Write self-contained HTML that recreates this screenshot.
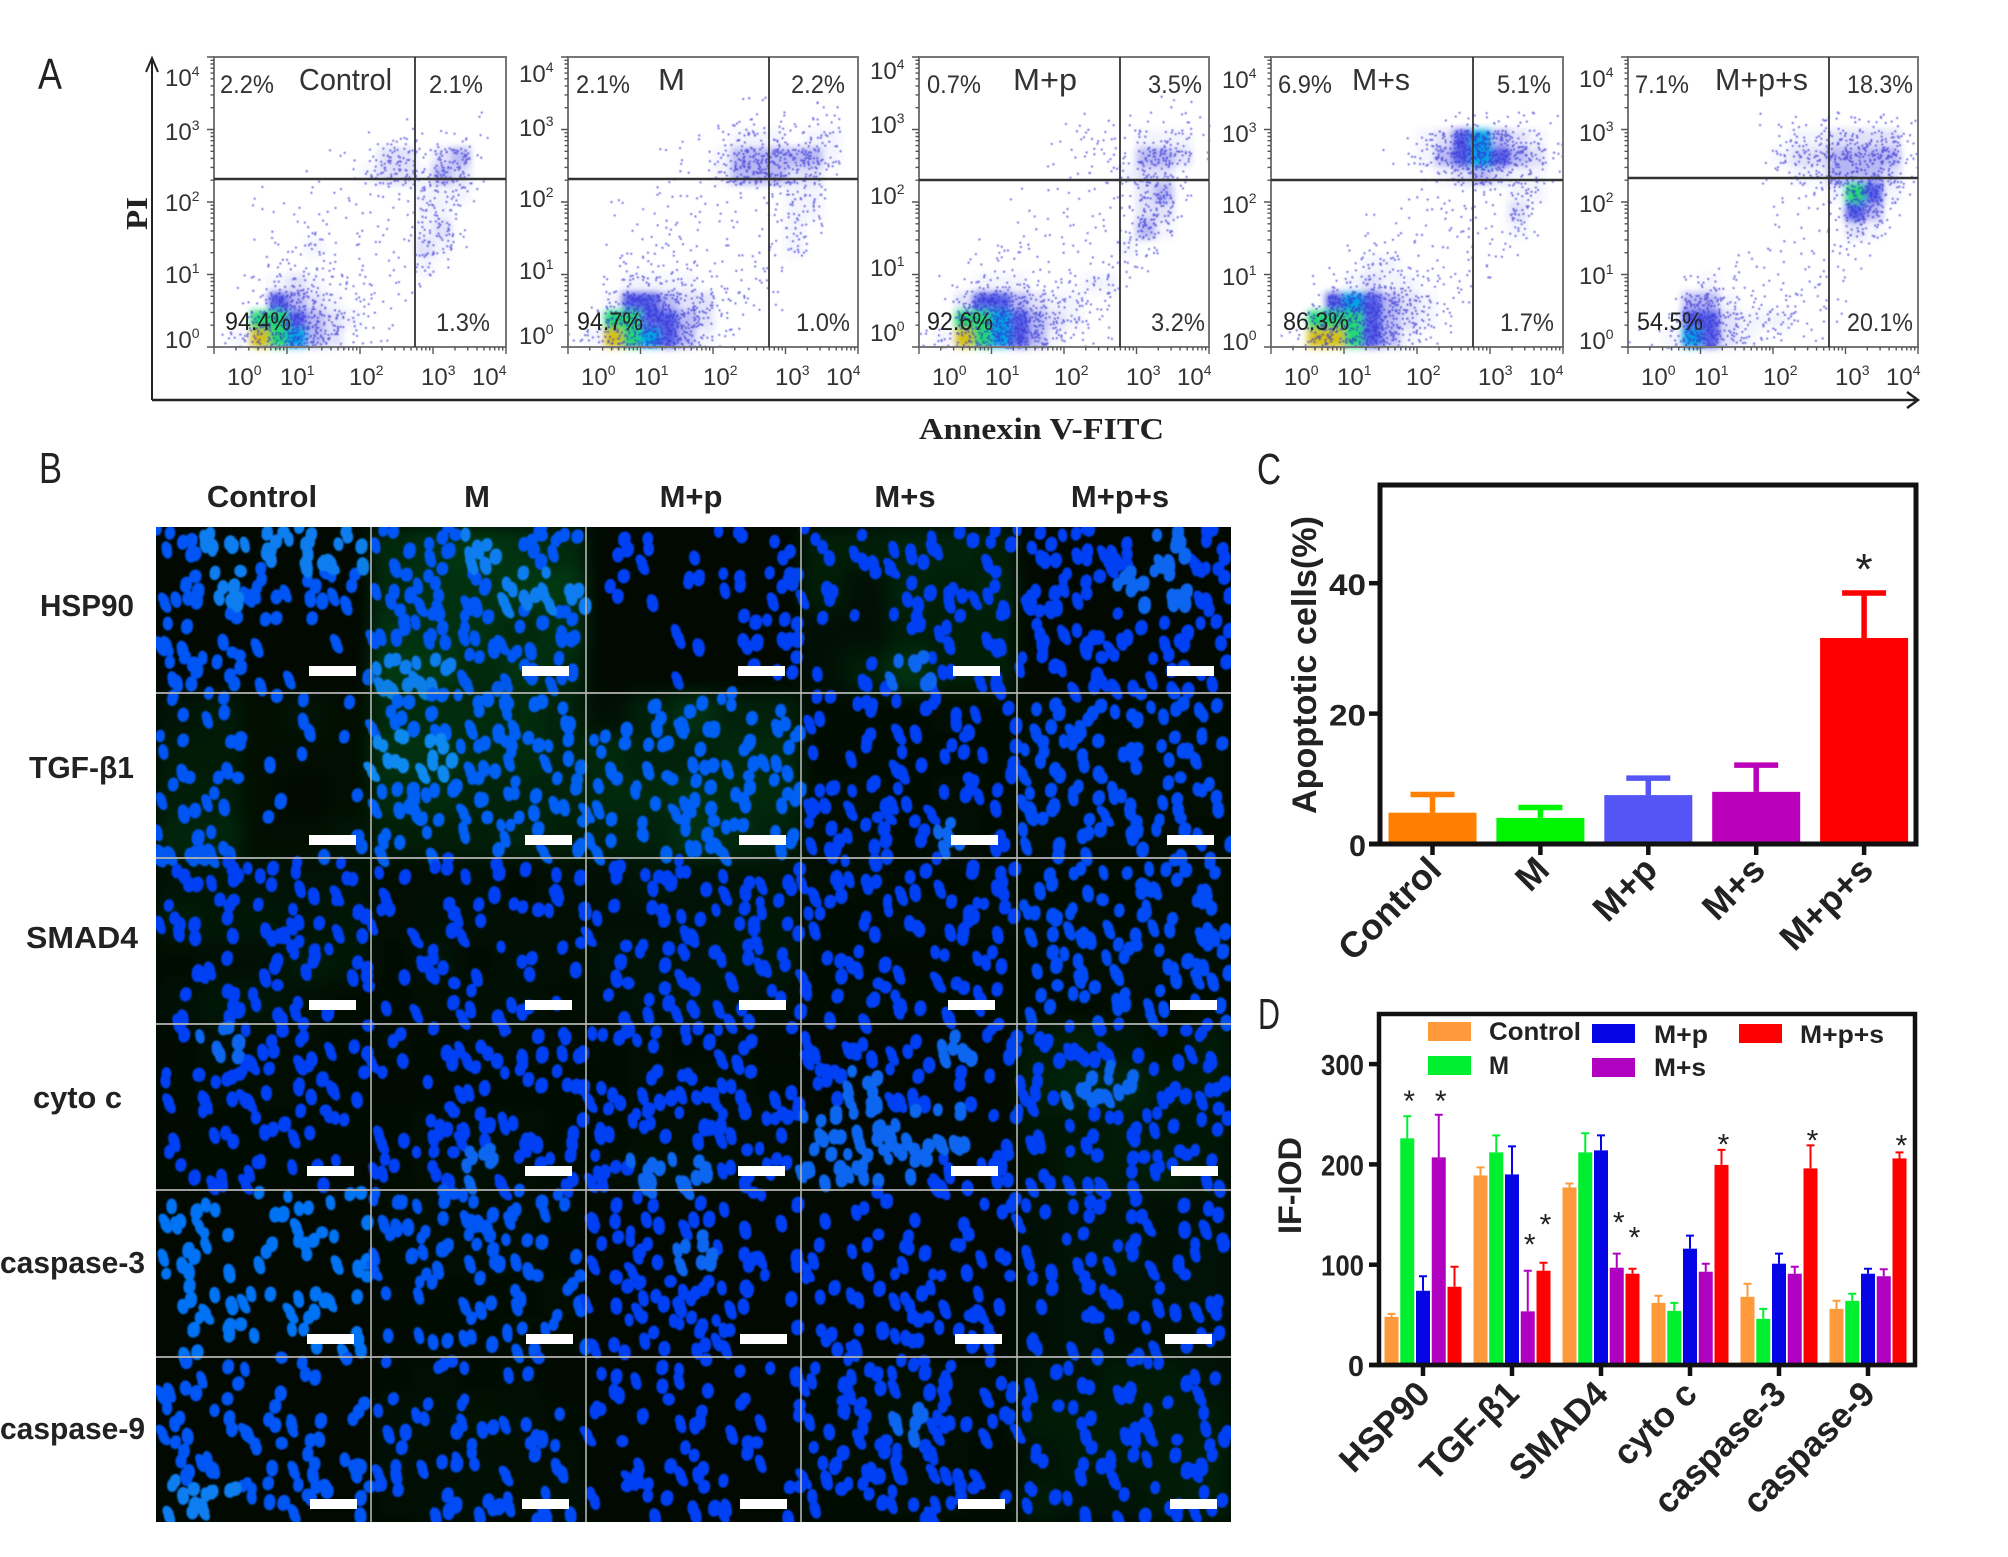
<!DOCTYPE html>
<html lang="en">
<head>
<meta charset="utf-8">
<title>Apoptosis and immunofluorescence figure</title>
<style>
html,body{margin:0;padding:0;background:#fff;}
body{width:2008px;height:1557px;overflow:hidden;}
svg{display:block;}
text{font-family:"Liberation Sans","DejaVu Sans",sans-serif;}
.serif{font-family:"Liberation Serif",serif;font-weight:bold;}
</style>
</head>
<body>
<svg id="fig" width="2008" height="1557" viewBox="0 0 2008 1557" xmlns="http://www.w3.org/2000/svg">
  <defs>
    <filter id="b5" x="-20%" y="-20%" width="140%" height="140%"><feGaussianBlur stdDeviation="3.5"/></filter>
    <filter id="b06"><feGaussianBlur stdDeviation="0.55"/></filter>
    <filter id="b1"><feGaussianBlur stdDeviation="0.9"/></filter>
    <filter id="b9" x="-20%" y="-20%" width="140%" height="140%"><feGaussianBlur stdDeviation="9"/></filter>
    <clipPath id="clipB"><rect x="156" y="527" width="1075" height="995"/></clipPath>
  </defs>
  <rect width="2008" height="1557" fill="#fff"/>

  <text x="38" y="89" font-size="44" textLength="24" lengthAdjust="spacingAndGlyphs" fill="#222">A</text>
  <text x="39" y="483" font-size="44" textLength="23" lengthAdjust="spacingAndGlyphs" fill="#222">B</text>
  <text x="1257" y="484" font-size="44" textLength="24" lengthAdjust="spacingAndGlyphs" fill="#222">C</text>
  <text x="1258" y="1029" font-size="44" textLength="22" lengthAdjust="spacingAndGlyphs" fill="#222">D</text>

  <g id="panelA"></g>
  <g>
    <path d="M152 400V60M146 72L152 58L158 72" fill="none" stroke="#222" stroke-width="2"/>
    <path d="M152 400H1916M1907 392L1918 400L1907 408" fill="none" stroke="#222" stroke-width="2.5"/>
    <text class="serif" x="919" y="439" font-size="31" textLength="245" lengthAdjust="spacingAndGlyphs" fill="#222">Annexin V-FITC</text>
    <text class="serif" transform="translate(147,230) rotate(-90)" font-size="31" textLength="33" lengthAdjust="spacingAndGlyphs" fill="#222">PI</text>
  </g>

  <g id="panelB"></g>
  <g id="chartC"></g>
  <g id="chartD"></g>
</svg>

<script>
/* ---------- Panel A: density estimated by eye, 0.25-decade cells, top row = highest PI ---------- */
const flowTitles = ["Control","M","M+p","M+s","M+p+s"];
const flowUL = ["2.2%","2.1%","0.7%","6.9%","7.1%"];
const flowUR = ["2.1%","2.2%","3.5%","5.1%","18.3%"];
const flowLL = ["94.4%","94.7%","92.6%","86.3%","54.5%"];
const flowLR = ["1.3%","1.0%","3.2%","1.7%","20.1%"];
const flowTickLabels = ["0","1","2","3","4"];
const flowDensityControl = [
[0,0,0,0,0,0,0,0,0,0,0,0,0,0,0,0],[0,0,0,0,0,0,0,0,0,0,0,0,0,0,0,0],[0,0,0,0,0,0,0,0,0,0,0,0,0,0,0,0],
[0,0,0,0,0,0,0,0,0,0,1,0,0,0,1,0],[0,0,0,0,0,0,0,0,1,2,2,1,2,2,1,0],[0,0,0,0,0,0,1,1,2,4,4,2,4,5,1,0],
[0,0,0,0,0,1,0,1,3,4,4,3,5,4,1,0],[0,0,1,0,0,1,1,1,1,1,2,3,3,3,1,0],[0,0,1,1,1,1,1,1,1,1,1,3,3,2,0,0],
[0,0,0,1,1,2,1,1,1,1,1,3,4,2,0,0],[0,0,1,1,2,3,1,1,1,1,1,4,3,1,0,0],[0,0,1,2,2,2,2,1,1,1,1,3,1,0,0,0],
[0,1,2,3,4,3,2,2,2,1,1,1,0,0,0,0],[0,1,2,6,5,4,3,2,2,1,1,0,0,0,0,0],[0,1,8,8,6,5,4,3,2,1,0,0,0,0,0,0],
[2,3,9,8,7,5,4,2,1,1,0,0,0,0,0,0]];
const flowDensityM = [
[0,0,0,0,0,0,0,0,0,0,0,0,0,0,0,0],[0,0,0,0,0,0,0,0,0,0,0,0,0,0,0,0],[0,0,0,0,0,0,0,0,0,1,1,0,0,1,1,0],
[0,0,0,0,0,0,0,0,1,2,2,2,1,2,2,0],[0,0,0,0,0,0,1,1,2,3,3,3,2,3,3,0],[0,0,0,0,0,1,1,1,3,5,5,5,5,5,3,0],
[0,0,0,0,0,1,1,1,3,5,5,5,4,4,1,0],[0,0,1,0,1,1,1,1,1,1,1,2,3,3,1,0],[0,0,1,0,1,1,1,1,1,1,1,2,3,3,0,0],
[0,0,0,1,1,2,1,1,1,1,1,1,3,2,0,0],[0,0,1,1,2,2,1,1,1,1,1,2,3,1,0,0],[0,0,1,2,2,2,2,1,1,1,2,1,0,0,0,0],
[0,1,2,3,3,3,3,2,2,2,2,1,0,0,0,0],[0,1,3,6,6,5,4,4,2,2,1,1,0,0,0,0],[0,1,8,8,6,6,5,4,2,1,0,0,0,0,0,0],
[2,3,9,8,7,6,5,3,2,1,0,0,0,0,0,0]];
const flowDensityMp = [
[0,0,0,0,0,0,0,0,0,0,0,0,0,0,0,0],[0,0,0,0,0,0,0,0,0,0,0,0,0,0,0,0],[0,0,0,0,0,0,0,0,0,0,0,0,0,1,1,0],
[0,0,0,0,0,0,0,0,1,1,1,1,1,1,2,1],[0,0,0,0,0,0,0,1,1,2,2,1,3,3,3,1],[0,0,0,0,0,0,0,1,1,2,2,2,5,5,4,1],
[0,0,0,0,0,0,0,0,1,1,2,3,4,4,2,0],[0,0,0,0,0,1,0,1,1,1,1,1,4,5,2,0],[0,0,0,0,0,0,1,1,1,1,1,2,4,4,1,0],
[0,0,0,0,0,1,1,1,1,1,1,2,5,3,0,0],[0,0,0,1,2,2,1,1,1,1,1,3,2,1,0,0],[0,0,1,1,2,1,1,1,1,1,2,2,1,0,0,0],
[0,1,2,3,3,3,2,2,2,3,3,1,0,0,0,0],[0,1,4,6,6,5,4,3,3,2,2,0,0,0,0,0],[0,1,8,8,7,6,5,4,3,2,1,0,0,0,0,0],
[2,3,9,8,7,6,5,3,2,1,1,0,0,0,0,0]];
const flowDensityMs = [
[0,0,0,0,0,0,0,0,0,0,0,0,0,0,0,0],[0,0,0,0,0,0,0,0,0,0,0,0,0,0,0,0],[0,0,0,0,0,0,0,0,0,0,0,0,0,0,0,0],
[0,0,0,0,0,0,0,0,0,1,2,2,2,2,1,1],[0,0,0,0,0,0,0,1,3,4,6,7,5,4,3,1],[0,0,0,0,0,0,1,2,3,5,6,7,6,5,4,2],
[0,0,0,0,0,0,0,0,1,3,4,5,4,3,3,1],[0,0,0,0,0,0,0,1,1,1,1,2,1,3,3,0],[0,0,0,0,0,1,0,1,1,2,2,1,1,4,2,0],
[0,0,0,0,0,1,1,1,1,1,2,1,1,3,1,0],[0,0,0,0,1,2,2,1,1,1,1,1,2,1,0,0],[0,0,0,1,2,3,3,2,1,1,2,1,0,0,0,0],
[0,0,1,2,3,4,3,3,2,2,2,1,0,0,0,0],[0,0,2,6,7,6,5,4,3,2,1,0,0,0,0,0],[0,1,8,8,8,6,5,4,3,2,0,0,0,0,0,0],
[1,2,9,9,8,6,5,3,2,1,0,0,0,0,0,0]];
const flowDensityMps = [
[0,0,0,0,0,0,0,0,0,0,0,0,0,0,0,0],[0,0,0,0,0,0,0,0,0,0,0,0,0,0,0,0],[0,0,0,0,0,0,0,0,0,0,0,0,0,0,0,0],
[0,0,0,0,0,0,0,1,1,2,2,2,2,2,2,1],[0,0,0,0,0,0,0,0,2,3,3,4,4,4,4,2],[0,0,0,0,0,0,0,1,3,4,4,5,5,5,5,2],
[0,0,0,0,0,0,0,1,2,3,3,5,5,5,4,2],[0,0,0,0,0,0,0,0,1,1,2,3,8,6,3,1],[0,0,0,0,0,0,0,0,1,1,1,2,6,5,2,0],
[0,0,0,0,0,0,0,0,1,1,1,1,4,3,1,0],[0,0,0,0,0,0,1,1,1,1,1,2,2,1,0,0],[0,0,0,0,1,1,1,1,1,1,1,1,1,0,0,0],
[0,0,0,2,3,2,1,1,1,1,2,1,0,0,0,0],[0,0,1,5,5,3,2,2,2,2,2,1,0,0,0,0],[0,0,2,6,6,4,3,3,3,2,1,1,0,0,0,0],
[1,1,3,7,6,4,3,2,2,1,1,0,0,0,0,0]];
const flowDensities = [flowDensityControl,flowDensityM,flowDensityMp,flowDensityMs,flowDensityMps];

/* ---------- Panel B: nuclei-per-cell estimates for each image tile (rows of 5) ---------- */
const ifRowLabels = ["HSP90","TGF-β1","SMAD4","cyto c","caspase-3","caspase-9"];
const ifColLabels = ["Control","M","M+p","M+s","M+p+s"];
const ifNuclei = [
[[[5,6,6,7,6],[5,6,5,5,4],[4,3,2,1,1],[5,5,1,1,1]],[[4,5,6,5,4],[4,5,5,6,6],[5,5,5,4,5],[6,6,4,5,4]],[[2,2,1,2,2],[2,1,3,3,5],[0,0,3,4,5],[0,0,1,1,3]],[[3,3,4,4,3],[3,1,4,3,4],[1,1,3,3,3],[1,3,6,3,3]],[[5,5,5,6,5],[5,5,6,6,5],[4,5,4,4,4],[3,4,4,5,3]]],
[[[2,3,1,2,1],[3,3,1,1,1],[4,4,1,0,1],[5,5,1,1,2]],[[5,5,5,5,4],[6,6,5,5,4],[5,5,4,4,4],[3,3,3,4,3]],[[1,3,5,3,3],[4,3,3,4,4],[4,4,5,4,4],[3,3,5,4,3]],[[3,3,3,4,2],[1,3,3,3,3],[5,4,3,4,3],[5,5,2,6,3]],[[4,4,3,4,3],[5,5,4,4,4],[5,4,5,4,4],[4,4,4,4,3]]],
[[[3,4,3,3,3],[5,4,4,3,4],[1,2,2,5,4],[2,4,4,2,1]],[[2,2,3,1,3],[2,3,3,2,2],[1,5,1,3,2],[1,2,3,3,1]],[[2,4,3,3,3],[2,2,3,4,4],[3,3,3,4,4],[2,3,4,3,2]],[[4,5,3,3,4],[3,2,5,5,4],[3,3,1,2,3],[3,4,3,3,3]],[[2,2,3,5,5],[5,5,3,4,5],[2,4,5,4,5],[3,3,4,3,2]]],
[[[1,6,5,4,3],[3,5,4,4,3],[1,3,3,3,2],[2,2,3,2,1]],[[4,3,4,4,4],[1,1,3,3,3],[2,5,5,5,2],[3,5,6,4,3]],[[3,4,3,4,1],[3,4,5,4,2],[3,5,4,5,5],[5,6,6,4,4]],[[3,4,3,6,5],[5,6,5,2,1],[6,6,6,6,2],[6,6,6,5,5]],[[4,5,3,2,4],[5,6,6,4,4],[3,3,4,3,3],[2,4,4,5,3]]],
[[[4,2,2,3,3],[4,4,2,4,3],[3,3,2,4,2],[2,4,1,3,3]],[[5,4,5,4,2],[3,5,5,4,1],[1,3,3,3,4],[1,2,3,4,3]],[[3,3,3,2,2],[2,5,6,3,2],[4,5,5,4,2],[2,4,5,4,1]],[[1,3,1,1,3],[2,3,4,4,2],[2,2,4,4,3],[3,4,5,4,3]],[[2,3,3,2,2],[2,3,4,2,3],[2,3,3,3,3],[2,3,2,2,2]]],
[[[4,2,2,2,1],[4,3,4,3,2],[4,3,3,4,4],[6,6,5,5,2]],[[1,2,1,2,0],[3,3,4,3,1],[3,2,3,2,2],[2,3,3,2,3]],[[3,2,3,1,2],[3,2,3,2,2],[1,3,4,2,1],[2,3,3,2,2]],[[3,5,5,4,4],[3,5,6,5,3],[5,5,5,4,1],[2,3,4,5,1]],[[2,2,3,3,2],[3,3,3,3,3],[2,3,3,3,4],[3,2,2,3,4]]]
];
const ifGreen = [[0,7,0,6,0],[5,6,7,1,1],[3,2,3,1,1],[1,1,1,0,4],[0,1,0,0,3],[0,2,0,1,5]];
const ifCyan = [[3,3,1,1,1],[3,4,4,1,2],[1,1,1,1,2],[1,1,1,1,1],[6,3,1,1,1],[3,2,1,1,1]];

/* ---------- Panel C data ---------- */
const apopCategories = ["Control","M","M+p","M+s","M+p+s"];
const apopValues = [4.8,4.0,7.5,8.0,31.6];
const apopErrorTops = [7.6,5.6,10.1,12.1,38.5];
const apopColors = ["#ff8000","#00f500","#5555f5","#bb00bb","#ff0000"];
const apopTicks = [0,20,40];

/* ---------- Panel D data ---------- */
const iodCategories = ["HSP90","TGF-β1","SMAD4","cyto c","caspase-3","caspase-9"];
const iodSeriesNames = ["Control","M","M+p","M+s","M+p+s"];
const iodControl = [48,189,177,62,68,56];
const iodM = [226,212,212,54,46,64];
const iodMp = [74,190,214,116,101,91];
const iodMs = [207,53.5,97,93,91,88.5];
const iodMps = [78,94,91,199.5,196,206];
const iodControlErr = [51,197,181,69,81,64];
const iodMErr = [248,229,231,62,56,71];
const iodMpErr = [88.5,218,229,129,111,96];
const iodMsErr = [249.5,94,111,101,98,95.5];
const iodMpsErr = [98,102,96,214.5,219,212];
const iodColors = ["#ff9a3c","#00f030","#0505e6","#b000c0","#ff0000"];
const iodTicks = [0,100,200,300];
const starGroups = [0,0,1,1,2,2,3,4,5];
const starSeries = [1,3,3,4,3,4,4,4,4];
const starValues = [267,267,124,144,146,131,224,228,223];

const NS = "http://www.w3.org/2000/svg";
function mk(parent, tag, attrs, txt){
  const e = document.createElementNS(NS, tag);
  for (const k in attrs) e.setAttribute(k, attrs[k]);
  if (txt !== undefined) e.textContent = txt;
  parent.appendChild(e);
  return e;
}
/* fixed placement offset inside a density cell */
function place(a,b){
  const s = Math.sin(a*12.9898+b*78.233)*43758.5453;
  return s-Math.floor(s);
}

/* ===== Panel A ===== */
(function(){
  const root = document.getElementById("panelA");
  const lefts = [214,568,919,1271,1628], rights = [506,858,1209,1563,1918];
  const vx = [415,769,1120,1473,1829], hy = [179,179,180,180,178];
  const labelShift = [0,-4,-7,2,1];
  const titleX = [299,658,1013,1352,1715], titleW = [93,27,64,58,93];
  const ulX=[220,576,927,1278,1635], urX=[429,791,1148,1497,1847], lrX=[436,796,1151,1500,1847], llX=[225,577,927,1283,1637];
  const top = 57, bottom = 347;
  const heat = {3:["#3c3cdc",.06],4:["#2c2cdc",.14],5:["#2020dc",.3],6:["#1420dc",.7],7:["#00a4e4",1],8:["#20d874",1],9:["#d4c018",1]};
  const nDots = [0,2,5,10,18,30,45,50,30,20];
  flowDensities.forEach(function(grid,p){
    const L = lefts[p], R = rights[p], W = R-L, H = bottom-top;
    const xS = function(d){return L + d/4*W;};
    const yS = function(d){return bottom - d/4*H;};
    const g = mk(root,"g",{});
    
    
    const heatG = mk(g,"g",{filter:"url(#b5)"});
    
    
    let d = "";
    grid.forEach(function(row,r){
      row.forEach(function(v,c){
        const x0 = xS(c*0.25), y0 = yS(4-r*0.25);
        const cw = W/16, ch = H/16;
        if (heat[v]){
          const cell = mk(heatG,"rect",{x:x0,y:y0,width:cw+.5,height:ch+.5,fill:heat[v][0],opacity:heat[v][1]});
          
          
        }
        for (let i=0;i<nDots[v];i++){
          const u = place(p+r*17+c*3+i*0.37,i+1);
          const w = place(p+c*19+r*5+i*0.53,i+7);
          d += "M"+(x0+u*cw).toFixed(1)+" "+(y0+w*ch).toFixed(1)+"h1.9v1.9h-1.9z";
        }
      });
    });
    const dots = mk(g,"path",{d:d,fill:"#3434d4","fill-opacity":.72,filter:"url(#b06)"});
    
    

    const frame = mk(g,"rect",{x:L,y:top,width:W,height:H,fill:"none",stroke:"#777","stroke-width":2});
    
    
    const qv = mk(g,"line",{x1:vx[p],x2:vx[p],y1:top,y2:bottom,stroke:"#333","stroke-width":1.8});
    
    
    const qh = mk(g,"line",{x1:L,x2:R,y1:hy[p],y2:hy[p],stroke:"#333","stroke-width":2.4});
    
    

    let t = "";
    for (let dec=0;dec<=4;dec++){
      t += "M"+xS(dec)+" "+bottom+"v7M"+(L-7)+" "+yS(dec)+"h7";
      if (dec<4) for (let m=2;m<10;m++){
        const o = Math.log10(m);
        t += "M"+xS(dec+o).toFixed(1)+" "+bottom+"v3.5M"+(L-3.5)+" "+yS(dec+o).toFixed(1)+"h3.5";
      }
    }
    const ticks = mk(g,"path",{d:t,stroke:"#555","stroke-width":1.4,fill:"none"});
    
    

    const xOff = [13,66,135,207,258];
    const yBase = [348,283,211,140,86];
    flowTickLabels.forEach(function(lab,i){
      const xl = mk(g,"text",{x:L+xOff[i],y:385,"font-size":24,fill:"#333"},"10");
      
      
      mk(xl,"tspan",{dy:-10,"font-size":14},lab);
      const yl = mk(g,"text",{x:L-49,y:yBase[i]+labelShift[p],"font-size":24,fill:"#333"},"10");
      
      
      mk(yl,"tspan",{dy:-10,"font-size":14},lab);
    });

    const pctW = function(s){return s.length>=5 ? 66 : 54;};
    const title = mk(g,"text",{x:titleX[p],y:90,"font-size":31,fill:"#333",textLength:titleW[p],lengthAdjust:"spacingAndGlyphs"},flowTitles[p]);
    
    
    const ul = mk(g,"text",{x:ulX[p],y:93,"font-size":25,fill:"#333",textLength:pctW(flowUL[p]),lengthAdjust:"spacingAndGlyphs"},flowUL[p]);
    
    
    const ur = mk(g,"text",{x:urX[p],y:93,"font-size":25,fill:"#333",textLength:pctW(flowUR[p]),lengthAdjust:"spacingAndGlyphs"},flowUR[p]);
    
    
    const ll = mk(g,"text",{x:llX[p],y:330,"font-size":25,fill:"#222",textLength:pctW(flowLL[p]),lengthAdjust:"spacingAndGlyphs"},flowLL[p]);
    
    
    const lr = mk(g,"text",{x:lrX[p],y:331,"font-size":25,fill:"#333",textLength:pctW(flowLR[p]),lengthAdjust:"spacingAndGlyphs"},flowLR[p]);
    
    
  });
})();

/* ===== Panel B ===== */
(function(){
  const root = document.getElementById("panelB");
  const cols = [156,371,586,801,1017,1231];
  const rows = [527,693,858,1024,1190,1357,1522];
  const clip = mk(root,"g",{"clip-path":"url(#clipB)"});
  
  
  const bg = mk(clip,"rect",{x:156,y:527,width:1075,height:995,fill:"#010901"});
  
  
  ifNuclei.forEach(function(rowTiles,ri){
    rowTiles.forEach(function(tile,ci){
      const X = cols[ci], Y = rows[ri], TW = cols[ci+1]-X, TH = rows[ri+1]-Y;
      const g = mk(clip,"g",{});
      
      
      const cw = TW/5, ch = TH/4;
      const haze = mk(g,"g",{filter:"url(#b9)"});
      
      
      let dn = "", db = "";
      const bright = Math.min(1,ifCyan[ri][ci]/6);
      tile.forEach(function(r,ry){
        r.forEach(function(n,cx){
          const x0 = X+cx*cw, y0 = Y+ry*ch;
          if (ifGreen[ri][ci]>0 && n>0){
            const h = mk(haze,"rect",{x:x0,y:y0,width:cw,height:ch,fill:"#0c9c38",opacity:(ifGreen[ri][ci]*n/130).toFixed(2)});
            
            
          }
          const count = Math.round(n*1.35);
          for (let i=0;i<count;i++){
            const u = place(ri*31+ci*7+cx*3+ry*11+i*0.41,i+2);
            const w = place(ri*13+ci*29+cx*17+ry*5+i*0.67,i+5);
            const px = x0+u*cw, py = y0+w*ch;
            const rx = 4.6+(u*1.8), ry2 = 6+(w*2.2), rot = ((u-w)*50).toFixed(0);
            const seg = "M"+(px-rx).toFixed(1)+" "+py.toFixed(1)+"a"+rx.toFixed(1)+" "+ry2.toFixed(1)+" "+rot+" 1 0 "+(2*rx).toFixed(1)+" 0a"+rx.toFixed(1)+" "+ry2.toFixed(1)+" "+rot+" 1 0 "+(-2*rx).toFixed(1)+" 0z";
            if (n>=6) db += seg; else dn += seg;
          }
        });
      });
      const nc = mk(g,"path",{d:dn,fill:"rgb(6,"+Math.round(55+bright*60)+",245)",filter:"url(#b1)"});
      
      
      const nb = mk(g,"path",{d:db,fill:"rgb(12,"+Math.round(90+bright*70)+",240)",filter:"url(#b1)"});
      
      
    });
  });
  /* scale bars */
  const barLefts = [[309,522,738,953,1167],[309,525,739,951,1167],[309,525,739,948,1170],[307,525,738,951,1171],[307,526,740,955,1165],[310,522,740,958,1170]];
  const barTops = [666,835,1000,1166,1334,1499];
  barLefts.forEach(function(r,ri){
    r.forEach(function(x){
      const b = mk(clip,"rect",{x:x,y:barTops[ri],width:47,height:10,fill:"#fff"});
      
      
    });
  });
  /* grid lines */
  cols.slice(1,5).forEach(function(x){
    const l = mk(root,"line",{x1:x,x2:x,y1:527,y2:1522,stroke:"#b4b4b4","stroke-width":1.6});
    
    
  });
  rows.slice(1,6).forEach(function(y){
    const l = mk(root,"line",{x1:156,x2:1231,y1:y,y2:y,stroke:"#b4b4b4","stroke-width":1.8});
    
    
  });
  /* labels */
  const colX = [262,477,691,905,1120];
  ifColLabels.forEach(function(t,i){
    const e = mk(root,"text",{x:colX[i],y:507,"font-size":31,"font-weight":"bold","text-anchor":"middle",fill:"#222"},t);
    
    
  });
  const rowX = [40,29,26,33,0,0], rowW=[94,105,112,89,145,145], rowY=[616,778,948,1108,1273,1439];
  ifRowLabels.forEach(function(t,i){
    const e = mk(root,"text",{x:rowX[i],y:rowY[i],"font-size":31,"font-weight":"bold",fill:"#222",textLength:rowW[i],lengthAdjust:"spacingAndGlyphs"},t);
    
    
  });
})();

/* ===== Panel C ===== */
(function(){
  const root = document.getElementById("chartC");
  const y0 = 844, unit = 6.52;
  const yS = function(v){return y0 - v*unit;};
  const xS = function(i){return 1432.5 + i*107.9;};
  const barW = 88;
  apopCategories.forEach(function(cat,i){
    const bar = mk(root,"rect",{x:xS(i)-barW/2,y:yS(apopValues[i]),width:barW,height:y0-yS(apopValues[i]),fill:apopColors[i]});
    
    
    const err = mk(root,"path",{d:"M"+xS(i)+" "+yS(apopValues[i])+"V"+yS(apopErrorTops[i])+"M"+(xS(i)-22)+" "+yS(apopErrorTops[i])+"h44",stroke:apopColors[i],"stroke-width":5.5,fill:"none"});
    
    
    const tick = mk(root,"line",{x1:xS(i),x2:xS(i),y1:y0,y2:855,stroke:"#111","stroke-width":4.5});
    
    
    const lab = mk(root,"text",{transform:"translate("+(xS(i)+11)+",872) rotate(-45)","font-size":36,"font-weight":"bold","text-anchor":"end",fill:"#222"},cat);
    
    
  });
  apopTicks.forEach(function(v){
    const t = mk(root,"line",{x1:1369,x2:1379,y1:yS(v),y2:yS(v),stroke:"#111","stroke-width":4.5});
    
    
    const l = mk(root,"text",{x:1366,y:yS(v)+12,"font-size":30,"text-anchor":"end",fill:"#222","font-weight":"bold",textLength:v===0?17:37,lengthAdjust:"spacingAndGlyphs"},String(v));
    
    
  });
  const box = mk(root,"rect",{x:1380,y:485,width:536,height:359,fill:"none",stroke:"#111","stroke-width":5});
  
  
  const baseline = mk(root,"line",{x1:1369,x2:1918,y1:844,y2:844,stroke:"#111","stroke-width":5});
  
  
  const star = mk(root,"text",{x:xS(4),y:584,"font-size":44,"text-anchor":"middle",fill:"#222"},"*");
  
  
  const yt = mk(root,"text",{transform:"translate(1316,814) rotate(-90)","font-size":34,"font-weight":"bold",fill:"#222",textLength:298,lengthAdjust:"spacingAndGlyphs"},"Apoptotic cells(%)");
  
  
})();

/* ===== Panel D ===== */
(function(){
  const root = document.getElementById("chartD");
  const y0 = 1365, unit = 1.003;
  const yS = function(v){return y0 - v*unit;};
  const xG = function(g){return 1423 + g*89;};
  const xB = function(g,s){return xG(g) + (s-2)*15.75;};
  const barW = 14;
  const series = [iodControl,iodM,iodMp,iodMs,iodMps];
  const errs = [iodControlErr,iodMErr,iodMpErr,iodMsErr,iodMpsErr];
  iodCategories.forEach(function(cat,g){
    series.forEach(function(vals,s){
      const bar = mk(root,"rect",{x:xB(g,s)-barW/2,y:yS(vals[g]),width:barW,height:y0-yS(vals[g]),fill:iodColors[s]});
      
      
      const err = mk(root,"path",{d:"M"+xB(g,s)+" "+yS(vals[g])+"V"+yS(errs[s][g])+"M"+(xB(g,s)-4)+" "+yS(errs[s][g])+"h8",stroke:iodColors[s],"stroke-width":2,fill:"none"});
      
      
    });
    const tick = mk(root,"line",{x1:xG(g),x2:xG(g),y1:y0,y2:1376,stroke:"#111","stroke-width":4.5});
    
    
    const lab = mk(root,"text",{transform:"translate("+(xG(g)+9)+",1396) rotate(-45)","font-size":35,"font-weight":"bold","text-anchor":"end",fill:"#222"},cat);
    
    
  });
  iodTicks.forEach(function(v){
    const t = mk(root,"line",{x1:1369,x2:1379,y1:yS(v),y2:yS(v),stroke:"#111","stroke-width":4.5});
    
    
    const l = mk(root,"text",{x:1364,y:yS(v)+11,"font-size":29,"font-weight":"bold","text-anchor":"end",fill:"#222",textLength:v===0?16:(v<10?16:43),lengthAdjust:"spacingAndGlyphs"},String(v));
    
    
  });
  const box = mk(root,"rect",{x:1379,y:1014,width:536,height:351,fill:"none",stroke:"#111","stroke-width":4.5});
  
  
  const baseline = mk(root,"line",{x1:1369,x2:1917,y1:1365,y2:1365,stroke:"#111","stroke-width":4.5});
  
  
  starGroups.forEach(function(g,i){
    const st = mk(root,"text",{x:xB(g,starSeries[i])+2,y:yS(starValues[i])+14,"font-size":30,"text-anchor":"middle",fill:"#222"},"*");
    
    
  });
  const yt = mk(root,"text",{transform:"translate(1301,1234) rotate(-90)","font-size":32,"font-weight":"bold",fill:"#222",textLength:97,lengthAdjust:"spacingAndGlyphs"},"IF-IOD");
  
  
  /* legend */
  const swX = [1428,1428,1592,1592,1739];
  const swY = [1022,1056,1024,1058,1024];
  const txX = [1489,1489,1654,1654,1800];
  const txY = [1040,1074,1043,1076,1043];
  const txW = [92,20,54,52,84];
  iodSeriesNames.forEach(function(n,s){
    const sw = mk(root,"rect",{x:swX[s],y:swY[s],width:43,height:19,fill:iodColors[s]});
    
    
    const tx = mk(root,"text",{x:txX[s],y:txY[s],"font-size":25,"font-weight":"bold",fill:"#222",textLength:txW[s],lengthAdjust:"spacingAndGlyphs"},n);
    
    
  });
})();
</script>
</body>
</html>
